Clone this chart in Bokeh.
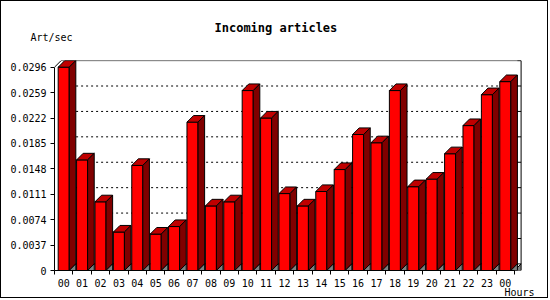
from bokeh.plotting import figure
from bokeh.models import Range1d, FixedTicker, Title
from bokeh.embed import file_html
from bokeh.resources import INLINE

# ---- data ----
hours = ["00", "01", "02", "03", "04", "05", "06", "07", "08", "09", "10", "11",
         "12", "13", "14", "15", "16", "17", "18", "19", "20", "21", "22", "23", "00"]
values = [0.0296, 0.0161, 0.0100, 0.0056, 0.0153, 0.0053, 0.0064, 0.0216, 0.0094,
          0.0100, 0.0262, 0.0222, 0.0112, 0.0094, 0.0115, 0.0147, 0.0198, 0.0186,
          0.0262, 0.0122, 0.0133, 0.0170, 0.0211, 0.0256, 0.0275]
y_ticks = [0, 0.0037, 0.0074, 0.0111, 0.0148, 0.0185, 0.0222, 0.0259, 0.0296]
y_tick_labels = ["0", "0.0037", "0.0074", "0.0111", "0.0148", "0.0185", "0.0222", "0.0259", "0.0296"]
grid_levels = [0.0074, 0.0111, 0.0148, 0.0185, 0.0222, 0.0259]

# ---- geometry (pixels) ----
W, H = 548, 298          # canvas (plus 1px css border each side)
FL, FT, FR, FB = 53, 59, 545, 269   # frame edges in canvas px
PITCH = 18.4             # px per category
YSCALE = 203.3 / 0.0296  # px per unit
DEPTH = 6.6              # 3d depth px

x_end = (FR - FL) / PITCH
y_end = (FB - FT) / YSCALE
dx = DEPTH / PITCH
dy = DEPTH / YSCALE
n = len(values)

FONT = "DejaVu Sans Mono"

p = figure(width=W, height=H, output_backend="svg", toolbar_location=None,
           x_range=Range1d(0, x_end), y_range=Range1d(0, y_end),
           min_border_left=FL, min_border_top=FT, min_border_right=W - FR,
           min_border_bottom=H - FB)
p.styles = {"border": "1px solid black"}
p.outline_line_color = None
p.xgrid.visible = False
p.ygrid.visible = False
p.background_fill_color = "white"
p.border_fill_color = "white"

# axes
xa = p.xaxis[0]
xa.ticker = FixedTicker(ticks=[i + 0.5 for i in range(n)], minor_ticks=list(range(n + 1)))
xa.major_label_overrides = {i + 0.5: h for i, h in enumerate(hours)}
xa.major_tick_out = 0
xa.major_tick_in = 0
xa.minor_tick_out = 4
xa.minor_tick_in = 0
xa.minor_tick_line_color = "black"
xa.bounds = (0, n)
xa.major_label_standoff = 4
xa.major_label_text_font = FONT
xa.major_label_text_font_size = "10px"
xa.major_label_text_color = "black"
xa.axis_line_color = "black"

ya = p.yaxis[0]
ya.ticker = FixedTicker(ticks=y_ticks, minor_ticks=[])
ya.major_label_overrides = {t: s for t, s in zip(y_ticks, y_tick_labels)}
ya.major_tick_out = 4
ya.major_tick_in = 0
ya.major_tick_line_color = "black"
ya.bounds = (0, y_ticks[-1])
ya.major_label_standoff = 4
ya.major_label_text_font = FONT
ya.major_label_text_font_size = "10px"
ya.major_label_text_color = "black"
ya.axis_line_color = "black"

# back plane: gridlines, frame
p.segment(x0=[dx] * len(grid_levels), y0=[g + dy for g in grid_levels],
          x1=[n + dx] * len(grid_levels), y1=[g + dy for g in grid_levels],
          line_color="black", line_dash="2 3", line_width=1)
p.segment(x0=[n + dx - 0.2] * (len(y_ticks) - 1), y0=[t + dy for t in y_ticks[1:]],
          x1=[n + dx] * (len(y_ticks) - 1), y1=[t + dy for t in y_ticks[1:]],
          line_color="black", line_width=1)
p.line(x=[dx, n + dx, n + dx], y=[y_ticks[-1] + dy] * 2 + [dy], line_color="black", line_width=1)
p.line(x=[dx, n + dx], y=[dy, dy], line_color="black", line_width=1)
p.line(x=[0, dx], y=[y_ticks[-1], y_ticks[-1] + dy], line_color="black", line_width=1)
p.line(x=[n, n + dx], y=[0, dy], line_color="black", line_width=1)
p.patch(x=[n, n + dx, n + dx], y=[0, dy, 0], fill_color="#808080", line_color="black", line_width=1)

# bars
left = [i + 0.2 for i in range(n)]
right = [i + 0.8 for i in range(n)]
tops_x = [[l, r, r + dx, l + dx] for l, r in zip(left, right)]
tops_y = [[v, v, v + dy, v + dy] for v in values]
side_x = [[r, r + dx, r + dx, r] for r in right]
side_y = [[v, v + dy, dy, 0] for v in values]
tri_x = [[r, r + dx, r + dx] for r in right]
tri_y = [[0, dy, 0] for _ in values]

p.quad(left=left, right=right, bottom=[0] * n, top=values,
       fill_color="#ff0000", line_color="black", line_width=1)
p.patches(xs=tops_x, ys=tops_y, fill_color="#c00000", line_color="black", line_width=1)
p.patches(xs=side_x, ys=side_y, fill_color="#800000", line_color="black", line_width=1)
p.patches(xs=tri_x, ys=tri_y, fill_color="#808080", line_color="black", line_width=1)

# texts as titles in the side panels (first added sits nearest the frame)
p.add_layout(Title(text=" ", align="left", standoff=7,
                   text_font=FONT, text_font_size="10px", text_color="white"), "above")
p.add_layout(Title(text="Art/sec", align="left", offset=29 - FL, standoff=-4,
                   text_font=FONT, text_font_size="10px", text_font_style="normal",
                   text_color="black"), "above")
p.add_layout(Title(text="Incoming articles", align="left", offset=213 - FL, standoff=-6,
                   text_font=FONT, text_font_size="12px", text_font_style="bold",
                   text_color="black"), "above")
p.add_layout(Title(text="Hours", align="left", offset=503 - FL, standoff=-10,
                   text_font=FONT, text_font_size="10px", text_font_style="normal",
                   text_color="black"), "below")

open("out.html", "w").write(file_html(p, INLINE))
